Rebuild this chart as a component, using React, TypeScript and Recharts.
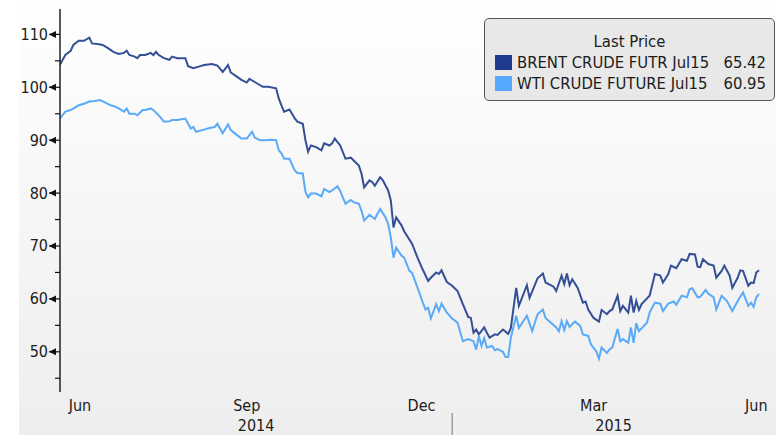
import React from 'react';
import { LineChart, Line, XAxis, YAxis } from 'recharts';

// trading-day index from 10 Jun 2014
const BRENT_DAY = [
  0, 2, 4, 5, 7, 9, 11, 12, 14, 16,
  18, 20, 22, 24, 25, 26, 28, 29, 30, 32,
  34, 35, 36, 37, 39, 41, 42, 44, 47, 48,
  50, 52, 54, 57, 59, 61, 63, 64, 66, 68,
  70, 71, 73, 76, 78, 81, 82, 83, 84, 86,
  88, 89, 91, 92, 93, 94, 96, 98, 99, 101,
  102, 103, 105, 107, 109, 110, 112, 113, 114, 116,
  117, 118, 120, 121, 123, 124, 125, 126, 128, 129,
  132, 134, 136, 138, 139, 141, 142, 143, 145, 147,
  149, 151, 153, 154, 155, 156, 157, 159, 160, 161,
  163, 164, 166, 168, 169, 171, 172, 175, 176, 179,
  181, 182, 185, 186, 188, 189, 190, 191, 192, 194,
  196, 197, 198, 200, 202, 203, 205, 206, 207, 209,
  210, 211, 213, 214, 215, 216, 217, 218, 221, 223,
  225, 226, 228, 229, 231, 233, 235, 236, 238, 239,
  240, 241, 243, 245, 246, 248, 249, 251, 252, 254,
  255, 256, 258, 259, 260, 261, 262,
];
const BRENT = [
  104.3, 106.1, 106.9, 108.0, 108.8, 108.8, 109.4, 108.3, 108.2, 108.0,
  107.4, 106.7, 106.3, 106.5, 106.9, 106.1, 105.8, 105.5, 106.1, 106.1,
  106.5, 106.1, 106.7, 106.1, 105.5, 105.2, 105.8, 105.5, 105.5, 104.0,
  103.6, 103.9, 104.2, 104.4, 104.1, 102.9, 104.2, 102.8, 102.1, 101.4,
  100.9, 101.6, 101.0, 100.1, 100.1, 99.8, 97.9, 96.6, 95.4, 95.8,
  94.1, 93.5, 93.1, 90.0, 87.8, 89.0, 88.7, 88.1, 89.4, 89.0,
  89.4, 90.3, 89.0, 86.5, 86.7, 86.2, 85.2, 83.7, 81.1, 82.4,
  82.1, 81.4, 83.0, 82.4, 80.5, 78.6, 73.5, 75.4, 73.9, 72.8,
  70.4, 67.8, 65.5, 63.4, 64.0, 65.0, 64.7, 65.4, 63.2, 62.5,
  61.5, 59.0, 56.6, 56.4, 53.6, 54.2, 53.3, 54.6, 53.6, 52.7,
  53.3, 53.2, 54.2, 53.4, 54.5, 62.1, 58.7, 62.6, 60.2, 63.9,
  64.8, 63.1, 62.3, 61.5, 64.4, 62.8, 64.8, 62.6, 63.7, 62.1,
  59.3, 59.5, 58.0, 56.4, 55.7, 57.9, 57.1, 57.7, 58.0, 60.6,
  57.7, 58.7, 57.4, 60.6, 57.4, 59.6, 57.9, 59.0, 60.6, 64.7,
  64.4, 63.1, 64.7, 66.3, 65.8, 67.5, 67.2, 68.5, 68.4, 66.1,
  66.0, 67.5, 66.6, 66.3, 64.0, 65.3, 66.3, 64.4, 62.1, 64.0,
  65.4, 65.3, 62.5, 63.1, 63.0, 65.0, 65.42,
];

const WTI_DAY = [
  0, 2, 4, 6, 7, 9, 11, 13, 15, 17,
  19, 21, 22, 24, 25, 26, 28, 29, 31, 32,
  34, 35, 37, 39, 41, 42, 44, 47, 49, 50,
  51, 54, 56, 58, 59, 61, 63, 64, 66, 68,
  70, 72, 73, 75, 77, 79, 81, 82, 83, 84,
  86, 88, 89, 91, 92, 93, 94, 96, 98, 99,
  101, 102, 104, 105, 107, 109, 110, 112, 113, 114,
  116, 118, 119, 120, 122, 123, 124, 125, 126, 128,
  129, 131, 132, 134, 136, 137, 138, 139, 141, 142,
  143, 145, 147, 149, 151, 153, 155, 156, 157, 158,
  159, 160, 162, 163, 164, 166, 167, 168, 169, 171,
  172, 175, 177, 179, 181, 182, 184, 186, 187, 188,
  189, 190, 191, 193, 195, 196, 198, 199, 201, 202,
  203, 205, 206, 207, 209, 210, 211, 213, 214, 215,
  216, 217, 220, 221, 223, 225, 226, 228, 230, 231,
  233, 235, 236, 237, 239, 240, 242, 243, 245, 246,
  248, 250, 252, 254, 256, 258, 259, 260, 261, 262,
];
const WTI = [
  94.1, 95.4, 95.7, 96.3, 96.6, 96.9, 97.3, 97.4, 97.6, 97.1,
  96.6, 96.3, 96.0, 95.4, 96.0, 95.0, 95.0, 94.7, 95.7, 95.7,
  96.0, 95.7, 94.7, 93.5, 93.6, 93.8, 93.8, 94.1, 92.2, 92.5,
  91.6, 92.0, 92.3, 92.5, 93.1, 91.3, 93.0, 91.9, 91.1, 90.3,
  90.3, 91.6, 90.5, 90.0, 90.0, 90.1, 90.0, 88.1, 87.5, 86.5,
  86.5, 84.3, 83.8, 83.7, 80.2, 79.2, 79.9, 79.9, 79.4, 80.8,
  80.2, 80.5, 81.3, 80.4, 78.0, 78.7, 78.3, 78.0, 76.7, 74.8,
  75.9, 75.1, 76.1, 77.0, 75.4, 74.2, 71.6, 67.8, 69.7, 68.2,
  67.8, 65.3, 64.9, 62.1, 59.3, 58.0, 58.3, 56.3, 59.0, 57.7,
  59.1, 57.4, 56.3, 55.5, 52.0, 52.4, 52.0, 50.4, 53.0, 51.1,
  52.6, 50.8, 51.1, 50.3, 50.5, 50.0, 49.0, 49.0, 52.7, 56.8,
  54.5, 56.8, 53.9, 57.1, 58.0, 56.4, 55.5, 54.6, 53.9, 55.8,
  54.1, 55.8, 54.7, 55.7, 54.9, 53.3, 53.0, 51.4, 50.1, 48.7,
  50.8, 49.8, 50.5, 50.8, 54.3, 52.0, 52.4, 51.7, 54.6, 51.7,
  55.4, 53.9, 55.5, 57.4, 59.3, 59.1, 57.7, 59.1, 59.5, 58.9,
  60.6, 60.3, 61.8, 62.0, 60.3, 60.4, 61.7, 61.0, 60.3, 58.0,
  60.6, 59.6, 57.7, 59.6, 61.2, 58.7, 59.3, 58.5, 60.3, 60.95,
];

// month boundaries (first trading day of each month)
const MONTH_STARTS = [15, 38, 59, 81, 104, 124, 147, 169, 189, 211, 233, 254];
const MONTH_LABEL_DAYS = [7.5, 70, 135.5, 200, 261];
const MONTH_LABELS = ['Jun', 'Sep', 'Dec', 'Mar', 'Jun'];
const YEAR_LABEL_DAYS = [73.5, 207.5];
const YEAR_LABELS = ['2014', '2015'];
const YEAR_BREAK = 147;

const Y_TICKS = [45, 50, 55, 60, 65, 70, 75, 80, 85, 90, 95, 100, 105, 110];

const LEGEND = [
  { name: 'BRENT CRUDE FUTR Jul15', last: '65.42', color: '#1f3b8e' },
  { name: 'WTI CRUDE FUTURE Jul15', last: '60.95', color: '#57a9ff' },
];

const FONT = "'DejaVu Sans Condensed', 'DejaVu Sans', sans-serif";
const TEXT = '#1c1c1c';

const brentData = BRENT_DAY.map((day, i) => ({ day, price: BRENT[i] }));
const wtiData = WTI_DAY.map((day, i) => ({ day, price: WTI[i] }));

const YTick = (props: any) => {
  const { x, y, payload } = props;
  const v = payload.value;
  if (v % 10 !== 0) {
    return <line x1={x - 5} y1={y} x2={x} y2={y} stroke="#111" strokeWidth={1.2} />;
  }
  return (
    <g>
      <line x1={x - 11} y1={y} x2={x} y2={y} stroke="#111" strokeWidth={1.2} />
      <polygon points={`${x - 11},${y} ${x - 4},${y - 3.5} ${x - 4},${y + 3.5}`} fill="#111" />
      <text x={x - 12} y={y} dy={5.5} textAnchor="end" fontFamily={FONT} fontSize={16} fill={TEXT}>
        {v}
      </text>
    </g>
  );
};

const LabelTick = (props: any) => {
  const { x, y, payload } = props;
  const v = payload.value;
  if (v === YEAR_BREAK) {
    return <line x1={x} y1={y + 21} x2={x} y2={y + 45} stroke="#777" strokeWidth={1} />;
  }
  const mi = MONTH_LABEL_DAYS.indexOf(v);
  if (mi >= 0) {
    return (
      <text x={x} y={y + 19} textAnchor="middle" fontFamily={FONT} fontSize={16} fill={TEXT}>
        {MONTH_LABELS[mi]}
      </text>
    );
  }
  const yi = YEAR_LABEL_DAYS.indexOf(v);
  return (
    <text x={x} y={y + 39} textAnchor="middle" fontFamily={FONT} fontSize={16} fill={TEXT}>
      {YEAR_LABELS[yi]}
    </text>
  );
};

export default function App() {
  return (
    <div style={{ position: 'absolute', left: 0, top: 0, width: 776, height: 435, background: '#fff', overflow: 'hidden' }}>
      <div
        style={{
          position: 'absolute',
          left: 19,
          top: 0,
          width: 757,
          height: 435,
          background: 'linear-gradient(#ffffff 0%, #f5f5f5 55%, #eeeeee 100%)',
        }}
      />
      <div style={{ position: 'absolute', left: 0, top: 0 }}>
        <LineChart width={776} height={435} margin={{ top: 9, right: 1, bottom: 0, left: 0 }}>
          <XAxis
            xAxisId="m"
            type="number"
            dataKey="day"
            domain={[0, 268]}
            ticks={MONTH_STARTS}
            tick={false}
            tickSize={5}
            height={0}
            stroke="#222"
            axisLine={{ stroke: '#222', strokeWidth: 1.5 }}
            tickLine={{ stroke: '#222', strokeWidth: 1.2 }}
            allowDataOverflow
          />
          <XAxis
            xAxisId="lbl"
            type="number"
            dataKey="day"
            domain={[0, 268]}
            ticks={[...MONTH_LABEL_DAYS, ...YEAR_LABEL_DAYS, YEAR_BREAK]}
            interval={0}
            tick={<LabelTick />}
            tickSize={0}
            tickMargin={0}
            axisLine={false}
            tickLine={false}
            height={43}
            allowDataOverflow
          />
          <YAxis
            type="number"
            domain={[42.4, 114.8]}
            ticks={Y_TICKS}
            interval={0}
            width={60}
            tick={<YTick />}
            tickSize={0}
            tickMargin={0}
            tickLine={false}
            axisLine={{ stroke: '#222', strokeWidth: 1.5 }}
            allowDataOverflow
          />
          <Line
            xAxisId="m"
            data={brentData}
            dataKey="price"
            type="linear"
            stroke="#334f95"
            strokeWidth={2}
            dot={false}
            isAnimationActive={false}
          />
          <Line
            xAxisId="m"
            data={wtiData}
            dataKey="price"
            type="linear"
            stroke="#5aaaf8"
            strokeWidth={2}
            dot={false}
            isAnimationActive={false}
          />
        </LineChart>
      </div>
      <div
        style={{
          position: 'absolute',
          left: 484,
          top: 18,
          width: 289,
          height: 81,
          border: '1px solid #555',
          borderRadius: 5,
          background: '#e8e8e8',
          fontFamily: FONT,
          fontSize: 16.5,
          color: TEXT,
          lineHeight: '21px',
        }}
      >
        <div style={{ textAlign: 'center', marginTop: 12 }}>Last Price</div>
        {LEGEND.map((s) => (
          <div key={s.name} style={{ display: 'flex', alignItems: 'center', height: 21, paddingLeft: 10, paddingRight: 8 }}>
            <span style={{ width: 17, height: 15, background: s.color, marginRight: 5, flex: 'none' }} />
            <span style={{ flex: 1, whiteSpace: 'nowrap' }}>{s.name}</span>
            <span style={{ whiteSpace: 'nowrap' }}>{s.last}</span>
          </div>
        ))}
      </div>
    </div>
  );
}
